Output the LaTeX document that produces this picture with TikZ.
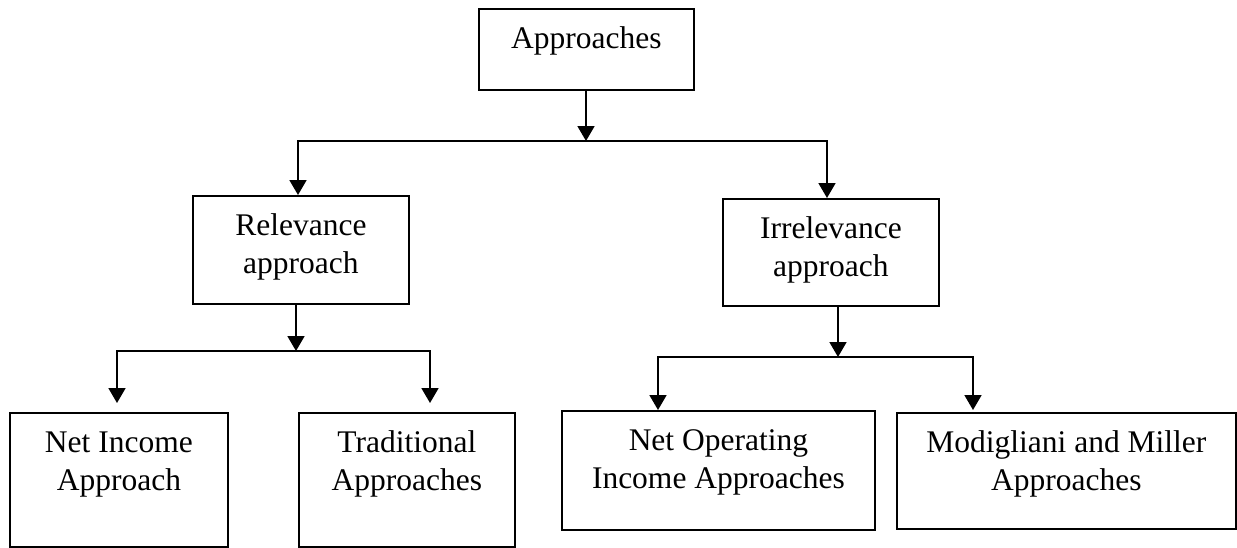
\documentclass[tikz,border=0pt]{standalone}
\usepackage{fontspec}
\setmainfont{Liberation Serif}
\usetikzlibrary{arrows.meta}

\begin{document}
\begin{tikzpicture}[
    x=0.5pt, y=-0.5pt,
    font=\fontsize{15.75pt}{19pt}\selectfont,
    box/.style={draw, line width=0.9pt, anchor=north west, inner sep=0pt, minimum width=108pt, text height=39pt, align=center},
    conn/.style={line width=0.9pt, -{Triangle[width=8.5pt, length=7.5pt]}}
]
    \useasboundingbox (0,0) rectangle (1237,547);

    \node[box, minimum width=107.5pt, text height=20pt, text depth=20.5pt] (top) at (478,8) {Approaches};
    
    \node[box, text depth=15pt] (rel) at (192,195) {Relevance\\approach};
    \node[box, text depth=14.5pt] (irr) at (722,198) {Irrelevance\\approach};
    
    \node[box, minimum width=109pt, text depth=28pt] (ni) at (9,412) {Net Income\\Approach};
    \node[box, text depth=28pt] (trad) at (298,412) {Traditional\\Approaches};
    \node[box, minimum width=156.5pt, text depth=20.5pt] (noi) at (561,410) {Net Operating\\Income Approaches};
    \node[box, minimum width=169.5pt, text depth=19pt] (mm) at (896,412) {Modigliani and Miller\\Approaches};

    \coordinate (topsplit) at (586,141);
    \coordinate (relend) at (298,195);
    \coordinate (irrend) at (827,198);
    \coordinate (relsplit) at (296,351);
    \coordinate (niend) at (117,403);
    \coordinate (tradend) at (430,403);
    \coordinate (irrsplit) at (838,357);
    \coordinate (noiend) at (658,410);
    \coordinate (mmend) at (973,410);

    \draw[conn] (top.south -| topsplit) -- (topsplit);
    \draw[conn] (topsplit) -| (relend);
    \draw[conn] (topsplit) -| (irrend);
    
    \draw[conn] (rel.south -| relsplit) -- (relsplit);
    \draw[conn] (relsplit) -| (niend);
    \draw[conn] (relsplit) -| (tradend);
    
    \draw[conn] (irr.south -| irrsplit) -- (irrsplit);
    \draw[conn] (irrsplit) -| (noiend);
    \draw[conn] (irrsplit) -| (mmend);

\end{tikzpicture}
\end{document}
